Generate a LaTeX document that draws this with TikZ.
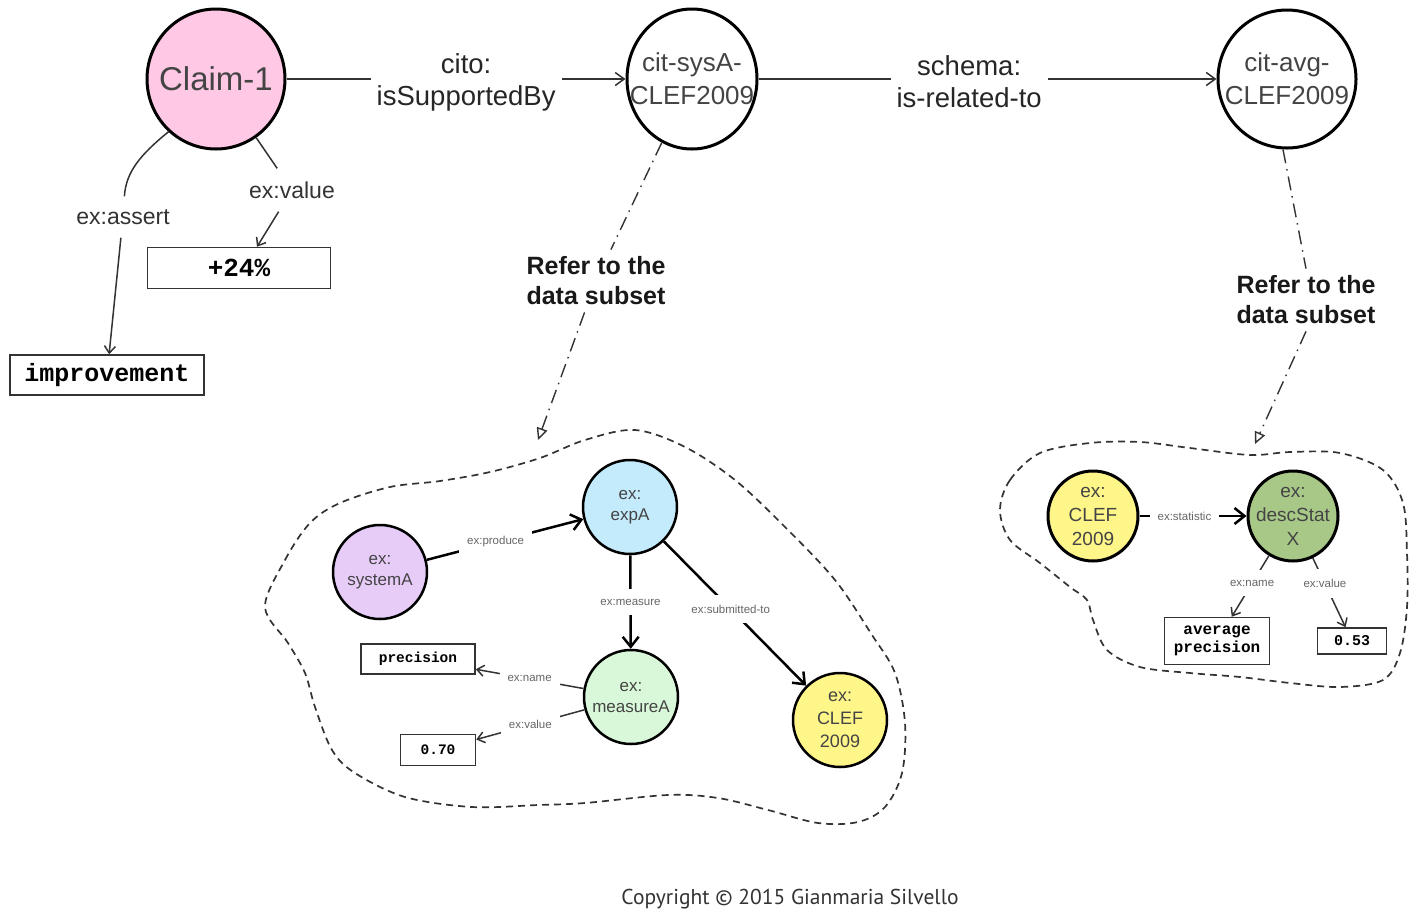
\documentclass[tikz,border=0pt]{standalone}
\usepackage{fontspec}
\setmainfont{Liberation Sans}
\setmonofont{Liberation Mono}
\newfontfamily\copyfont{PT Sans}
\usetikzlibrary{shapes.geometric,arrows.meta}
\definecolor{claimpink}{HTML}{FFC8E4}
\definecolor{purp}{HTML}{E8CCF8}
\definecolor{blu}{HTML}{C3EBFB}
\definecolor{grn}{HTML}{D9F8D9}
\definecolor{yel}{HTML}{FFF68A}
\definecolor{dgrn}{HTML}{A8C888}
\definecolor{txtgray}{HTML}{444444}
\definecolor{lblgray}{HTML}{666666}
\definecolor{edgec}{HTML}{333333}
\tikzset{
  bigc/.style={ellipse, draw=black, line width=3pt, inner sep=0pt},
  bigtxt/.style={text=txtgray, font=\fontsize{26}{33}\selectfont, align=center, inner sep=0pt},
  smc/.style={circle, draw=black, line width=2.5pt, minimum size=94pt, inner sep=0pt},
  smtxt/.style={text=txtgray, font=\fontsize{17}{21}\selectfont, align=center, inner sep=0pt},
  clftxt/.style={text=txtgray, font=\fontsize{19}{24}\selectfont, align=center, inner sep=0pt},
  vbox/.style={rectangle, draw=black!80, line width=1.5pt, inner sep=0pt, font=\ttfamily\bfseries, align=center},
  toplbl/.style={fill=white, font=\fontsize{27.5}{32}\selectfont, text=black!85, align=center, inner xsep=6pt, inner ysep=4pt},
  mlbl/.style={font=\fontsize{23}{26}\selectfont, text=black!80, inner xsep=3pt, inner ysep=13pt},
  slbl/.style={fill=white, font=\fontsize{11.5}{13}\selectfont, text=lblgray, inner xsep=8pt, inner ysep=10pt},
  refl/.style={font=\bfseries\fontsize{25}{30}\selectfont, text=black!90, align=center, inner sep=7pt},
  edge/.style={draw=edgec, line width=1.5pt},
  barb/.style={-{Straight Barb[length=9pt,width=13pt]}},
  sbarb/.style={-{Straight Barb[length=7pt,width=11pt]}},
  thk/.style={draw=black, line width=2.5pt},
  thkbarb/.style={-{Straight Barb[length=10pt,width=16pt]}},
  dd/.style={draw=edgec, line width=1.4pt, dash pattern=on 14pt off 6pt on 1.5pt off 6pt},
  tri/.style={-{Triangle[open,length=12pt,width=11pt]}},
  blob/.style={draw=edgec, line width=1.7pt, dash pattern=on 7pt off 5pt}
}
\begin{document}
\begin{tikzpicture}[x=1pt,y=-1pt]
\useasboundingbox (0,0) rectangle (1414,914);

% top nodes
\node[bigc, fill=claimpink, minimum width=138pt, minimum height=140pt,
  label={[bigtxt, font=\fontsize{33}{36}\selectfont]center:Claim-1}] (claim) at (216,79) {};
\node[bigc, minimum width=130pt, minimum height=140pt,
  label={[bigtxt]center:{cit-sysA-\\CLEF2009}}] (sysA) at (692,79) {};
\node[bigc, minimum width=138pt, minimum height=138pt,
  label={[bigtxt]center:{cit-avg-\\CLEF2009}}] (avg) at (1287,79) {};

\draw[edge, barb] (claim) -- node[toplbl, pos=0.53, yshift=-3pt]{cito:\\isSupportedBy} (sysA);
\draw[edge, barb] (sysA) -- node[toplbl, pos=0.46, yshift=-3pt]{schema:\\is-related-to} (avg);

% claim literals
\node[vbox, font=\ttfamily\bfseries\fontsize{25}{28}\selectfont, minimum width=194pt, minimum height=40pt] (improve) at (107,375) {improvement};
\node[vbox, font=\ttfamily\bfseries\fontsize{26}{30}\selectfont, minimum width=183pt, minimum height=41pt] (plus24) at (239,268) {+24\%};
\node[mlbl] (lassert) at (123,217) {ex:assert};
\node[mlbl] (lvalue) at (292,190) {ex:value};
\draw[edge] (claim.228) .. controls (140,155) and (126,172) .. (lassert);
\draw[edge, sbarb] (lassert) -- (improve);
\draw[edge] (claim) -- (lvalue);
\draw[edge, sbarb] (lvalue) -- ([xshift=18pt]plus24.north);

% refer labels
\node[refl] (ref1) at (596,281) {Refer to the\\data subset};
\node[refl] (ref2) at (1306,300) {Refer to the\\data subset};
\coordinate (t1) at (538,440);
\coordinate (t2) at (1255,444);
\draw[dd] (sysA) -- (ref1);
\draw[dd, tri] (ref1) -- (t1);
\draw[dd] ([xshift=-4pt]avg.south) -- (ref2.north);
\draw[dd, tri] (ref2.south) -- (t2);

% blob 1
\draw[blob] plot[smooth cycle, tension=0.55] coordinates {
 (265,607) (285,560) (310,523) (340,503) (390,487) (440,481) (490,472) (540,458)
 (585,440) (635,430) (685,447) (735,480) (785,527) (835,580) (872,635) (895,673)
 (905,723) (902,773) (885,807) (858,822) (818,823) (768,810) (718,798) (668,795)
 (585,803) (538,805) (472,807) (405,797) (355,773) (332,750) (315,707) (305,673) (288,643)};

\node[smc, fill=purp, label={[smtxt]center:{ex:\\systemA}}] (sysAn) at (380,572) {};
\node[smc, fill=blu, label={[smtxt]center:{ex:\\expA}}] (expA) at (630,507) {};
\node[smc, fill=grn, label={[smtxt]center:{ex:\\measureA}}] (measA) at (631,697) {};
\node[smc, fill=yel, label={[clftxt, font=\fontsize{18}{23}\selectfont]center:{ex:\\CLEF\\2009}}] (clef1) at (840,720) {};
\node[vbox, font=\ttfamily\bfseries\fontsize{14.5}{17}\selectfont, minimum width=114pt, minimum height=30pt] (prec) at (418,659) {precision};
\node[vbox, font=\ttfamily\bfseries\fontsize{14.5}{17}\selectfont, minimum width=75pt, minimum height=31pt] (val70) at (438,750) {0.70};

\draw[thk, thkbarb] (sysAn) -- node[slbl, pos=0.44]{ex:produce} (expA);
\draw[thk, thkbarb] (expA) -- node[slbl]{ex:measure} (measA);
\draw[thk, thkbarb] (expA) -- node[slbl, pos=0.47]{ex:submitted-to} (clef1);
\draw[edge, sbarb] (measA) -- node[slbl]{ex:name} (prec);
\draw[edge, sbarb] (measA) -- node[slbl]{ex:value} (val70);

% blob 2
\draw[blob] plot[smooth cycle, tension=0.55] coordinates {
 (1000,510) (1010,480) (1040,453) (1090,443) (1140,442) (1190,448) (1250,455) (1290,452)
 (1340,453) (1383,470) (1403,503) (1407,553) (1407,607) (1400,653) (1383,680) (1340,687)
 (1290,683) (1240,677) (1190,673) (1140,667) (1107,650) (1093,620) (1087,600) (1070,587)
 (1040,563) (1010,540)};

\node[smc, line width=3pt, minimum size=90pt, fill=yel, label={[clftxt]center:{ex:\\CLEF\\2009}}] (clef2) at (1093,516) {};
\node[smc, line width=3pt, minimum size=90pt, fill=dgrn, label={[clftxt]center:{ex:\\descStat\\X}}] (desc) at (1293,516) {};
\node[vbox, font=\ttfamily\bfseries\fontsize{16}{18}\selectfont, minimum width=105pt, minimum height=47pt] (avgp) at (1217,641) {average\\precision};
\node[vbox, font=\ttfamily\bfseries\fontsize{15}{17}\selectfont, minimum width=69pt, minimum height=26pt] (v53) at (1352,641) {0.53};

\draw[thk, thkbarb] (clef2) -- node[slbl, pos=0.42]{ex:statistic} (desc);
\draw[edge, sbarb] (desc) -- node[slbl, pos=0.45]{ex:name} (avgp);
\draw[edge, sbarb] (desc) -- node[slbl, pos=0.37]{ex:value} (v53);

% copyright
\node[font=\copyfont\fontsize{21.5}{24}\selectfont, text=black!80] (copy) at (790,899) {Copyright © 2015 Gianmaria Silvello};
\end{tikzpicture}
\end{document}
